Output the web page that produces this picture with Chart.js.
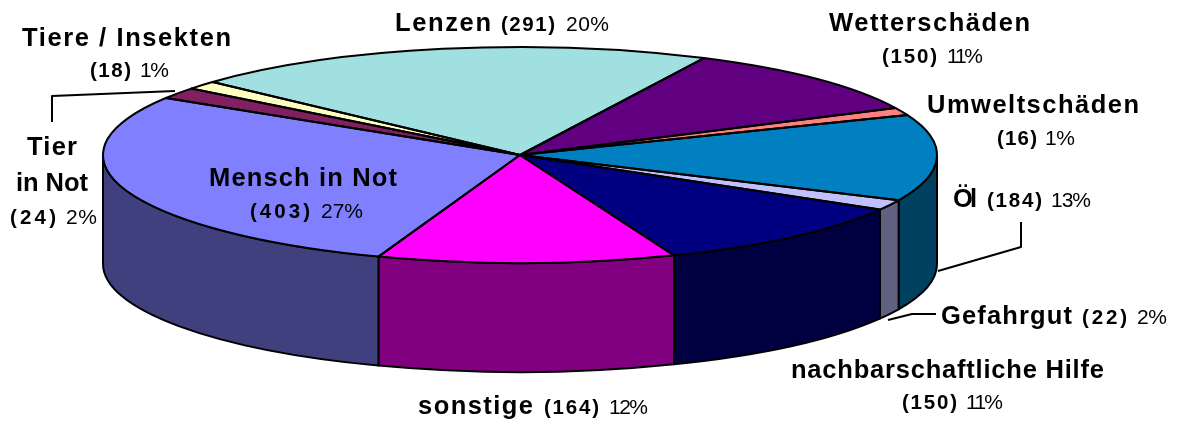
<!DOCTYPE html>
<html><head><meta charset="utf-8">
<style>html,body{margin:0;padding:0;background:#fff}canvas{display:block}</style>
<script src="https://cdn.jsdelivr.net/npm/chart.js@4"></script>
</head><body>
<div style="width:1178px;height:424px;position:relative"><canvas id="c" width="1178" height="424"></canvas></div>
<script>
const categories = ['Lenzen','Wetterschäden','Umweltschäden','Öl','Gefahrgut','nachbarschaftliche Hilfe','sonstige','Mensch in Not','Tier in Not','Tiere / Insekten'];
const values = [291,150,16,184,22,150,164,403,24,18];
const percents = ['20%','11%','1%','13%','2%','11%','12%','27%','2%','1%'];
const topColors = ['#A0E0E0','#600080','#FF8080','#0080C0','#C0C0FF','#000080','#FF00FF','#8080FF','#802060','#FFFFC0'];
const sideColors = ['#507070','#300040','#804040','#004060','#606080','#000040','#800080','#40407F','#401030','#808060'];

const CX = 520, CY = 155, RX = 417, RY = 108, DEPTH = 109;
const NAME = 'bold 25.5px "Liberation Sans"', NUM = 'bold 20.5px "Liberation Sans"', PCT = '21px "Liberation Sans"';
// text layout: category index, then runs [kind, left, right, baseline]
const labelLayout = [
  [9, [['name',22,231,46],['num',90,131,77],['pct',140,169,77]]],
  [0, [['name',395,491,31],['num',501,555,31],['pct',566,609,31]]],
  [1, [['name',829,1030,31],['num',882,937,63],['pct',947,983,63]]],
  [2, [['name',927,1139,113],['num',997,1037,145],['pct',1045,1075,145]]],
  [3, [['name',953,977,207],['num',987,1042,207],['pct',1051,1091,207]]],
  [4, [['name',941,1072,324],['num',1082,1127,324],['pct',1137,1167,324]]],
  [5, [['name',791,1104,378],['num',902,957,409],['pct',966,1003,409]]],
  [6, [['name',418,533,414],['num',544,599,414],['pct',609,648,414]]],
  [7, [['name',209,397,186],['num',250,310,218],['pct',321,363,218]]],
  [8, [['Tier',27,77,155],['in Not',16,88,191],['num',10,56,224],['pct',66,97,224]]]
];
const leaders = [
  [[52,122],[52,96],[175,91]],
  [[1021,222],[1021,247],[938,271]],
  [[936,314],[912,314],[888,320]]
];

function fitText(ctx, text, font, left, right, base) {
  ctx.font = font;
  ctx.letterSpacing = '0px';
  const w = ctx.measureText(text).width;
  const n = Math.max(text.length - 1, 1);
  ctx.letterSpacing = ((right - left - w) / n).toFixed(2) + 'px';
  ctx.fillText(text, left, base);
  ctx.letterSpacing = '0px';
}

const pie3d = {
  id: 'pie3d',
  beforeDatasetsDraw(chart) {
    const ctx = chart.ctx, arcs = chart.getDatasetMeta(0).data;
    // side wall, from each slice's own angles
    ctx.save();
    ctx.lineWidth = 2; ctx.strokeStyle = '#000'; ctx.lineJoin = 'round';
    arcs.forEach((a, i) => {
      for (const k of [-1, 0, 1]) {
        const s = Math.max(a.startAngle + k * 2 * Math.PI, 0);
        const e = Math.min(a.endAngle + k * 2 * Math.PI, Math.PI);
        if (e <= s) continue;
        ctx.beginPath();
        ctx.ellipse(a.x, a.y, RX, a.outerRadius, 0, s, e);
        ctx.ellipse(a.x, a.y + DEPTH, RX, a.outerRadius, 0, e, s, true);
        ctx.closePath();
        ctx.fillStyle = sideColors[i];
        ctx.fill(); ctx.stroke();
      }
    });
    ctx.restore();
    // flatten the pie into the ellipse
    const a0 = arcs[0];
    ctx.save();
    ctx.translate(a0.x, a0.y);
    ctx.scale(RX / a0.outerRadius, 1);
    ctx.translate(-a0.x, -a0.y);
  },
  afterDatasetsDraw(chart) {
    const ctx = chart.ctx, arcs = chart.getDatasetMeta(0).data;
    ctx.restore();
    ctx.save();
    ctx.lineWidth = 2; ctx.strokeStyle = '#000'; ctx.lineJoin = 'round';
    arcs.forEach(a => {
      ctx.beginPath();
      ctx.moveTo(a.x, a.y);
      ctx.ellipse(a.x, a.y, RX, a.outerRadius, 0, a.startAngle, a.endAngle);
      ctx.closePath();
      ctx.stroke();
    });
    leaders.forEach(p => {
      ctx.beginPath();
      p.forEach(([x, y], j) => j ? ctx.lineTo(x, y) : ctx.moveTo(x, y));
      ctx.stroke();
    });
    ctx.fillStyle = '#000'; ctx.textAlign = 'left'; ctx.textBaseline = 'alphabetic';
    labelLayout.forEach(([i, runs]) => {
      runs.forEach(([kind, l, r, b]) => {
        if (kind === 'name') fitText(ctx, categories[i], NAME, l, r, b);
        else if (kind === 'num') fitText(ctx, '(' + values[i] + ')', NUM, l, r, b);
        else if (kind === 'pct') fitText(ctx, percents[i], PCT, l, r, b);
        else fitText(ctx, kind, NAME, l, r, b);
      });
    });
    ctx.restore();
  }
};

new Chart(document.getElementById('c'), {
  type: 'pie',
  data: { labels: categories, datasets: [{ data: values, backgroundColor: topColors, borderWidth: 0 }] },
  options: {
    responsive: false, animation: false, rotation: -47.5, radius: RY,
    layout: { padding: { left: 0, top: 0, right: 1178 - 2 * CX, bottom: 424 - 2 * CY } },
    plugins: { legend: { display: false }, tooltip: { enabled: false }, title: { display: false } }
  },
  plugins: [pie3d]
});
</script>
</body></html>
